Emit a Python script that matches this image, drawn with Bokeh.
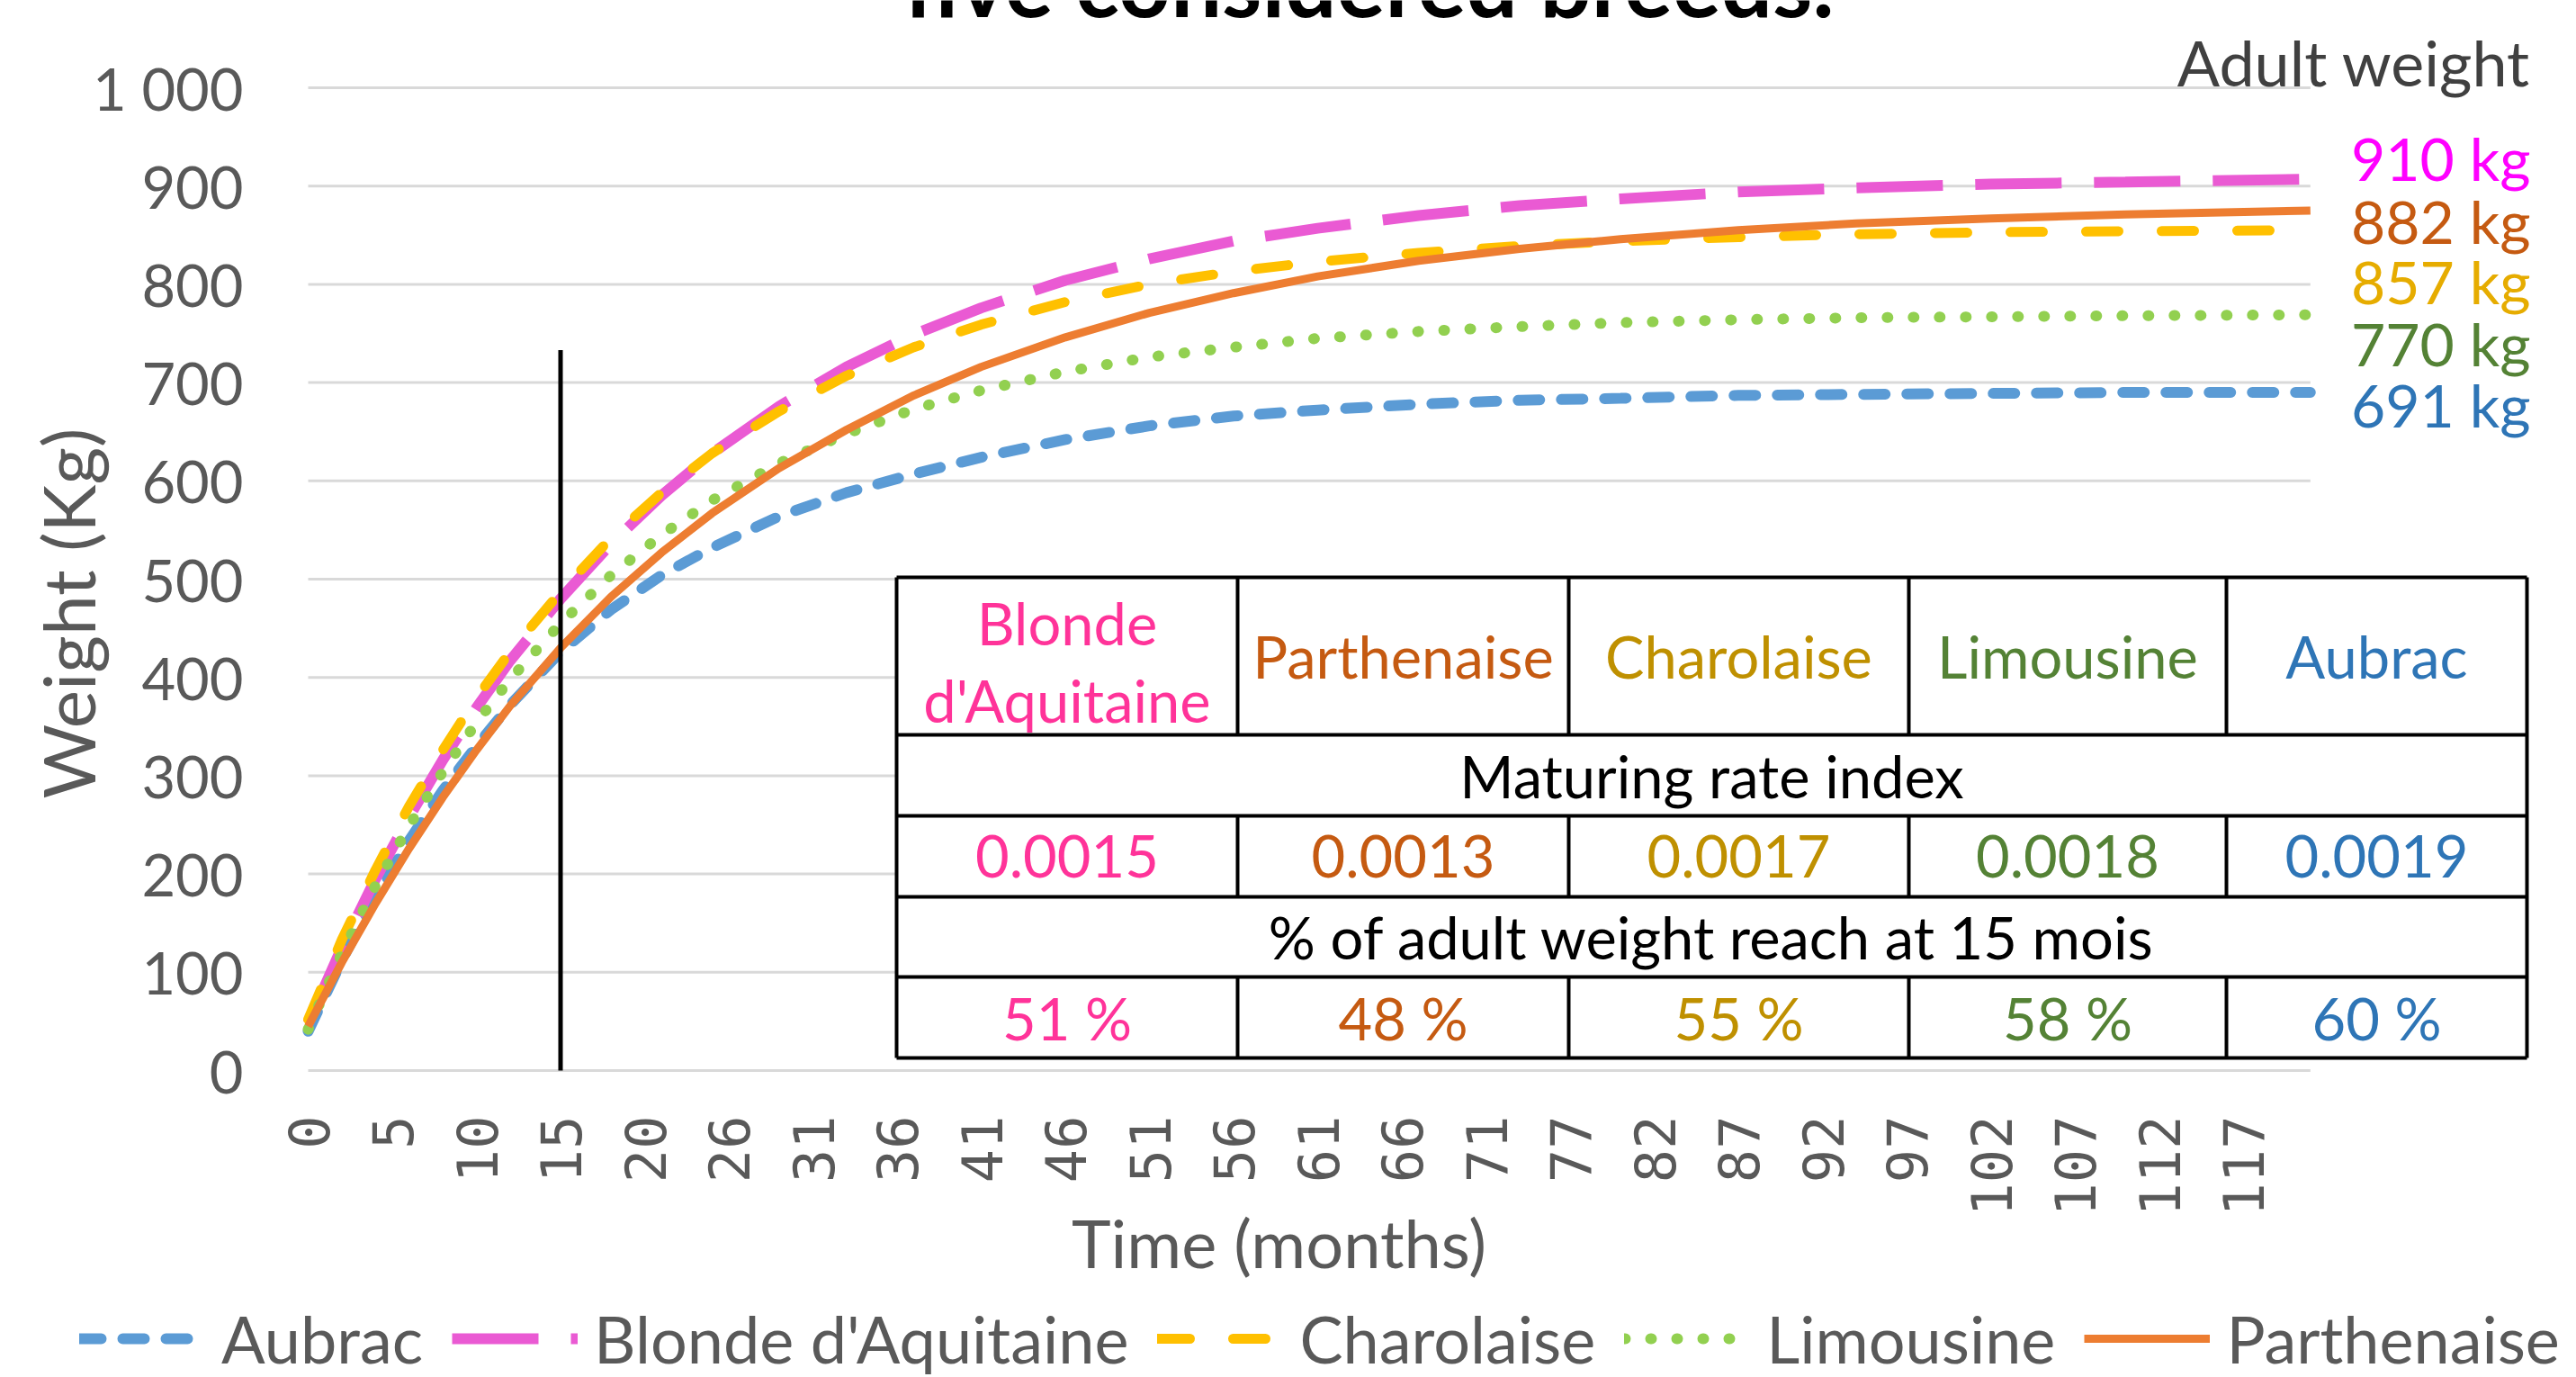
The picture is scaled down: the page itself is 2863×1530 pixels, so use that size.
import math
from bokeh.plotting import figure
from bokeh.models import FixedTicker, Legend, LegendItem, Range1d
from bokeh.core.properties import value
from bokeh.embed import file_html
from bokeh.resources import INLINE

# ---------------- data ----------------
period_index = [0, 2, 4, 6, 8, 10, 12, 15, 18, 21, 24, 28, 32, 36, 40, 45, 50,
                55, 60, 66, 72, 78, 85, 92, 100, 108, 119]
aubrac = [40, 112, 177, 234, 285, 330, 372, 426, 469, 504, 532, 564, 588, 607, 624,
          642, 656, 666, 672, 678, 682, 684, 687, 688, 689, 690, 690]
blonde = [48, 125, 195, 258, 316, 369, 417, 480, 536, 585, 628, 676, 716, 749, 776,
          804, 826, 844, 857, 870, 880, 887, 894, 898, 902, 904, 907]
charolaise = [52, 133, 204, 269, 326, 379, 426, 487, 542, 588, 628, 671, 707, 736, 759,
              782, 800, 813, 823, 832, 839, 844, 848, 851, 853, 854, 855]
limousine = [42, 119, 188, 249, 304, 354, 398, 455, 504, 545, 580, 618, 648, 673, 692,
             711, 726, 736, 745, 752, 757, 761, 764, 766, 767, 768, 769]
parthenaise = [45, 110, 170, 226, 278, 326, 371, 430, 482, 527, 567, 613, 652, 687, 716,
               746, 771, 791, 808, 824, 836, 846, 855, 862, 867, 871, 875]

x_tick_index = [0, 5, 10, 15, 20, 25, 30, 35, 40, 45, 50, 55, 60, 65, 70, 75, 80, 85,
                90, 95, 100, 105, 110, 115]
x_tick_labels = ["0", "5", "10", "15", "20", "26", "31", "36", "41", "46", "51", "56",
                 "61", "66", "71", "77", "82", "87", "92", "97", "102", "107", "112", "117"]
y_ticks = [0, 100, 200, 300, 400, 500, 600, 700, 800, 900, 1000]
y_tick_labels = ["0", "100", "200", "300", "400", "500", "600", "700", "800", "900", "1 000"]

reference_month = 15
reference_top = 733

table_breeds = ["Blonde d'Aquitaine", "Parthenaise", "Charolaise", "Limousine", "Aubrac"]
maturing_rate = [0.0015, 0.0013, 0.0017, 0.0018, 0.0019]
pct_adult_weight_15 = [51, 48, 55, 58, 60]

adult_weight_breeds = ["Blonde d'Aquitaine", "Parthenaise", "Charolaise", "Limousine", "Aubrac"]
adult_weight = [910, 882, 857, 770, 691]

series_names = ["Aubrac", "Blonde d'Aquitaine", "Charolaise", "Limousine", "Parthenaise"]
series_values = [aubrac, blonde, charolaise, limousine, parthenaise]

# ---------------- styles / layout ----------------
series_styles = [
    dict(line_color="#5B9BD5", line_width=12, line_dash="24 24", line_cap="round"),
    dict(line_color="#EA5AD3", line_width=12, line_dash="96 36"),
    dict(line_color="#FFC000", line_width=11, line_dash="36 48", line_cap="round"),
    dict(line_color="#92D050", line_width=12, line_dash="1 28", line_cap="round"),
    dict(line_color="#ED7D31", line_width=9, line_join="round"),
]

PAGE_W, PAGE_H = 2863, 1530
ORIGIN_X = 342                # page x of period 0
ORIGIN_Y = 1189               # page y of 0 kg
X_PX = 18.7                   # px per period
Y_PX = 1.092                  # px per kg


def dx(page_x):
    return (page_x - ORIGIN_X) / X_PX


def dy(page_y):
    return (ORIGIN_Y - page_y) / Y_PX


# the frame fills the whole canvas; the axes sit at x=0 / y=0 inside it
p = figure(width=PAGE_W, height=PAGE_H,
           x_range=Range1d(dx(0), dx(PAGE_W)), y_range=Range1d(dy(PAGE_H), dy(0)),
           output_backend="svg", toolbar_location=None, min_border=0)
p.outline_line_color = None
p.xgrid.grid_line_color = None
p.ygrid.grid_line_color = None

for ax in (p.xaxis, p.yaxis):
    ax.fixed_location = 0
    ax.axis_line_color = None
    ax.major_tick_line_color = None
    ax.minor_tick_line_color = None
    ax.major_label_text_color = "#595959"

p.yaxis.ticker = FixedTicker(ticks=y_ticks)
p.yaxis.major_label_overrides = {t: l for t, l in zip(y_ticks, y_tick_labels)}
p.yaxis.major_label_text_font = "Lato"
p.yaxis.major_label_text_font_size = "65px"
p.yaxis.major_label_standoff = 66

p.xaxis.ticker = FixedTicker(ticks=x_tick_index)
p.xaxis.major_label_overrides = {t: l for t, l in zip(x_tick_index, x_tick_labels)}
p.xaxis.major_label_text_font = "DejaVu Sans Mono"
p.xaxis.major_label_text_font_size = "62px"
p.xaxis.major_label_orientation = math.pi / 2
p.xaxis.major_label_standoff = 44

# gridlines over the data span only
p.segment(x0=[period_index[0]] * len(y_ticks), x1=[period_index[-1]] * len(y_ticks),
          y0=y_ticks, y1=y_ticks, line_color="#D9D9D9", line_width=3)

renderers = []
for vals, st in zip(series_values, series_styles):
    renderers.append(p.line(period_index, vals, **st))

# reference line at 15 months
p.segment(x0=[reference_month], x1=[reference_month], y0=[0], y1=[reference_top],
          line_color="black", line_width=5)

# ---------------- table ----------------
col_px = [996, 1375, 1743, 2121, 2474, 2808]
row_px = [641, 816, 906, 996, 1085, 1175]
cx = [dx(v) for v in col_px]
ry = [dy(v) for v in row_px]
p.quad(left=[cx[0]], right=[cx[-1]], top=[ry[0]], bottom=[ry[-1]],
       fill_color="white", line_color=None)
p.segment(x0=[cx[0]] * len(ry), x1=[cx[-1]] * len(ry), y0=ry, y1=ry,
          line_color="black", line_width=4)
p.segment(x0=[cx[0], cx[-1]], x1=[cx[0], cx[-1]], y0=[ry[0], ry[0]], y1=[ry[-1], ry[-1]],
          line_color="black", line_width=4)
vx0, vy0, vy1 = [], [], []
for r in (0, 2, 4):
    for c in cx[1:-1]:
        vx0.append(c)
        vy0.append(ry[r])
        vy1.append(ry[r + 1])
p.segment(x0=vx0, x1=vx0, y0=vy0, y1=vy1, line_color="black", line_width=4)

table_colors = ["#FF3399", "#C55A11", "#BF9000", "#548235", "#2E75B6"]
ccen = [(cx[i] + cx[i + 1]) / 2 for i in range(5)]
rcen = [(ry[i] + ry[i + 1]) / 2 for i in range(5)]

hx, hy, ht, hc = [], [], [], []
for i, name in enumerate(table_breeds):
    if " " in name:
        a, b = name.split(" ", 1)
        hx += [ccen[i], ccen[i]]
        hy += [dy(691), dy(777)]
        ht += [a, b]
        hc += [table_colors[i]] * 2
    else:
        hx.append(ccen[i]); hy.append(rcen[0]); ht.append(name); hc.append(table_colors[i])
for i in range(5):
    hx.append(ccen[i]); hy.append(rcen[2]); ht.append(f"{maturing_rate[i]:.4f}"); hc.append(table_colors[i])
    hx.append(ccen[i]); hy.append(rcen[4]); ht.append(f"{pct_adult_weight_15[i]} %"); hc.append(table_colors[i])
p.text(x=hx, y=hy, text=ht, text_color=hc, text_font=value("Lato"),
       text_font_size="65px", text_align="center", text_baseline="middle")
mid = (cx[0] + cx[-1]) / 2
p.text(x=[mid, mid], y=[rcen[1], rcen[3]],
       text=["Maturing rate index", "% of adult weight reach at 15 mois"],
       text_color="black", text_font=value("Lato"), text_font_size="65px",
       text_align="center", text_baseline="middle")

# ---------------- adult weight labels ----------------
aw_colors = ["#FF00FF", "#C55A11", "#E6AC00", "#548235", "#2E75B6"]
aw_mid_px = [175, 245, 312, 381, 449]
p.text(x=[dx(2812)] * len(adult_weight), y=[dy(v) for v in aw_mid_px],
       text=[f"{w} kg" for w in adult_weight], text_color=aw_colors,
       text_font=value("Lato"), text_font_size="66px", text_align="right",
       text_baseline="middle")
p.text(x=[dx(2812)], y=[dy(68)], text=["Adult weight"], text_color="#404040",
       text_font=value("Lato"), text_font_size="70px", text_align="right",
       text_baseline="middle")

# chart title: only the bottom of its last line shows at the top edge
p.text(x=[dx(1004)], y=[dy(1)], y_offset=-22, text=["five considered breeds."],
       text_color="black", text_font=value("Lato"), text_font_style="bold",
       text_font_size="101px", text_align="left", text_baseline="alphabetic")

# ---------------- axis titles ----------------
p.text(x=[dx(74)], y=[dy(681)], text=["Weight (Kg)"], angle=math.pi / 2,
       text_color="#595959", text_font=value("Lato"), text_font_size="80px",
       text_align="center", text_baseline="middle")
p.text(x=[dx(1421)], y=[dy(1380)], text=["Time (months)"], text_color="#595959",
       text_font=value("Lato"), text_font_size="74px", text_align="center",
       text_baseline="middle")

# ---------------- legend ----------------
legend = Legend(items=[LegendItem(label=n, renderers=[r])
                       for n, r in zip(series_names, renderers)],
                orientation="horizontal", location=(88, 0),
                padding=0, margin=0, spacing=32, glyph_width=140, glyph_height=40,
                label_standoff=18, label_text_font="Lato", label_text_font_size="72px",
                label_text_color="#595959", border_line_color=None,
                background_fill_alpha=0)
p.add_layout(legend)

open("out.html", "w").write(file_html(p, INLINE))
